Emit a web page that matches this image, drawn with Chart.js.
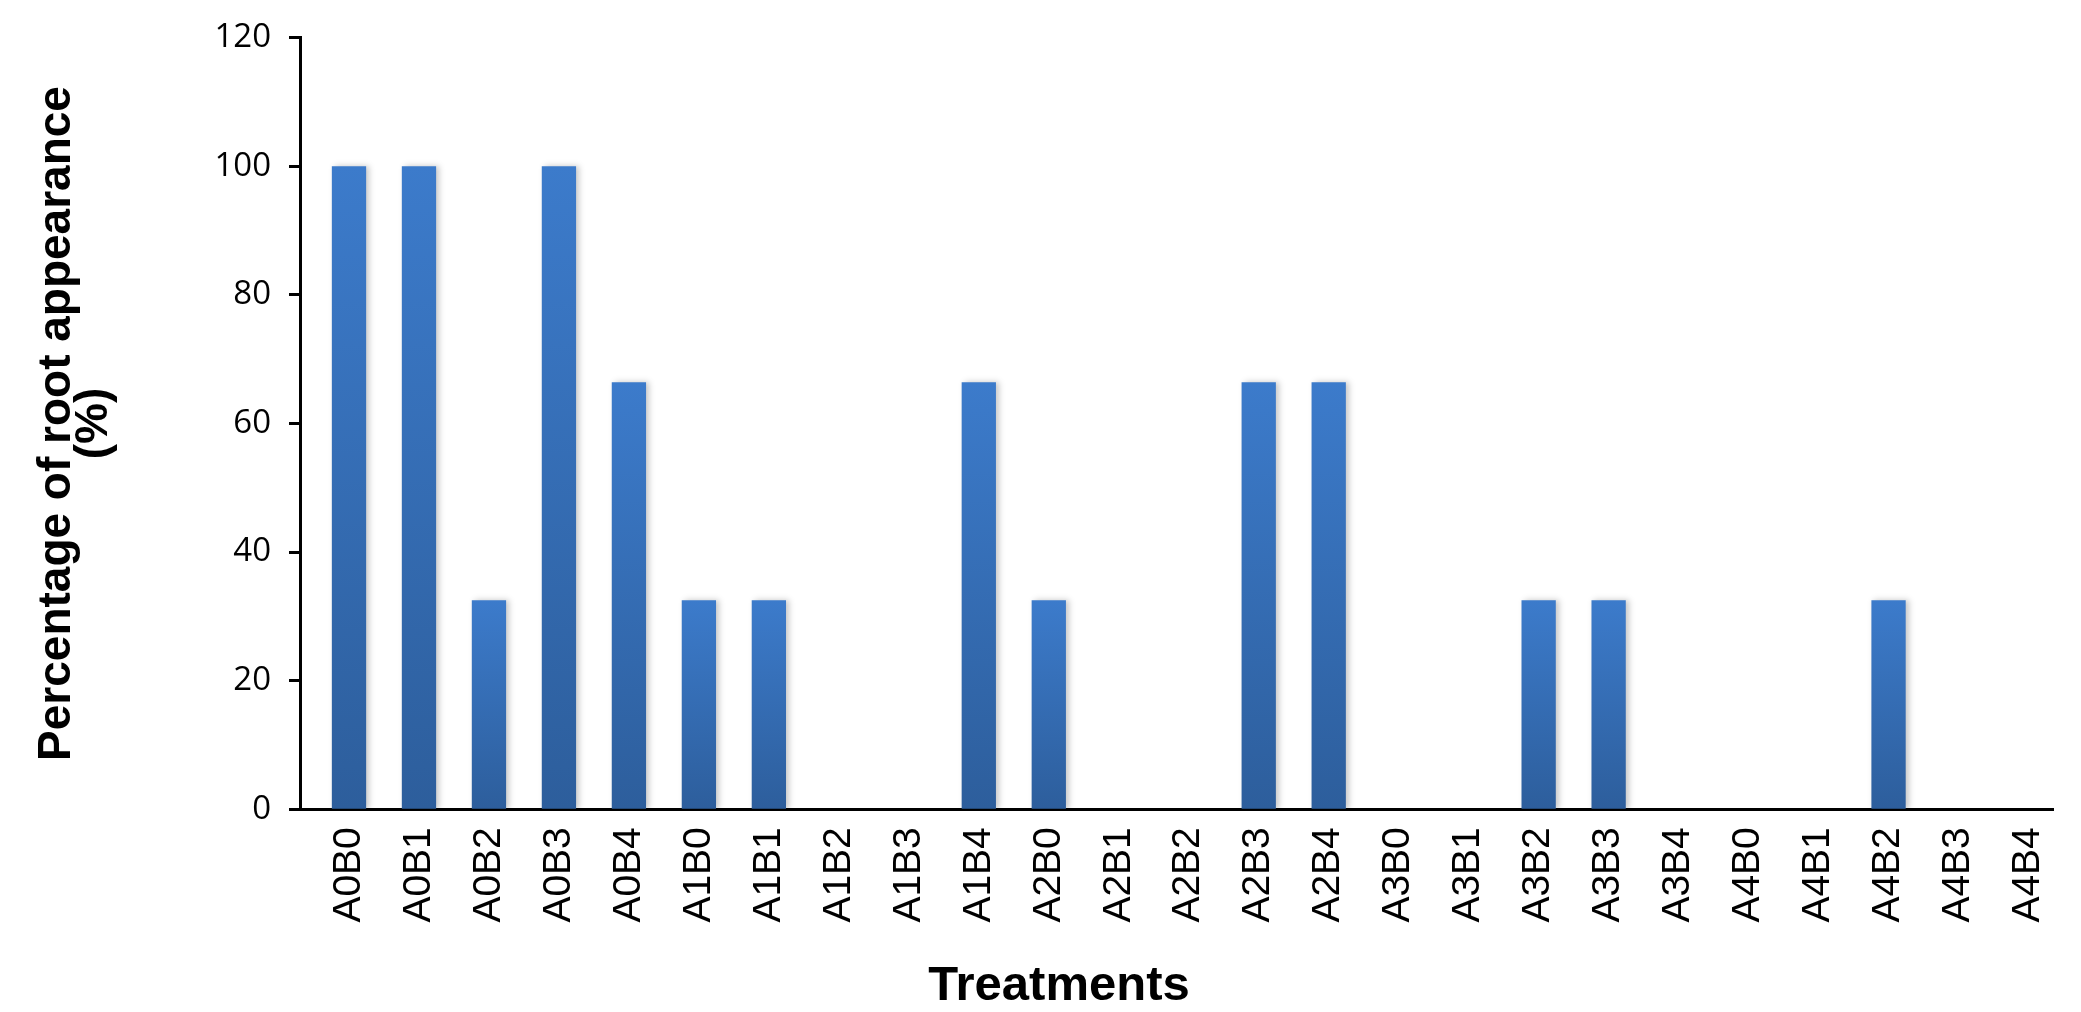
<!DOCTYPE html>
<html>
<head>
<meta charset="utf-8">
<script src="https://cdn.jsdelivr.net/npm/chart.js@4.4.1/dist/chart.umd.min.js"></script>
<style>
  html, body { margin: 0; padding: 0; background: #ffffff; }
  #wrap { width: 2081px; height: 1012px; position: relative; }
</style>
</head>
<body>
<div id="wrap"><canvas id="c" width="2081" height="1012"></canvas></div>
<script>
// ---- data ----
const treatments = ['A0B0','A0B1','A0B2','A0B3','A0B4','A1B0','A1B1','A1B2','A1B3','A1B4',
                    'A2B0','A2B1','A2B2','A2B3','A2B4','A3B0','A3B1','A3B2','A3B3','A3B4',
                    'A4B0','A4B1','A4B2','A4B3','A4B4'];
const rootAppearance = [100, 100, 32.5, 100, 66.4, 32.5, 32.5, 0, 0, 66.4,
                        32.5, 0, 0, 66.4, 66.4, 0, 0, 32.5, 32.5, 0,
                        0, 0, 32.5, 0, 0];
const yTicks = [0, 20, 40, 60, 80, 100, 120];
const yTitle = ['Percentage of root appearance', '(%)'];
const xTitle = 'Treatments';

const points = rootAppearance.map((v, i) => ({ x: i, y: v }));

function barGradient(context) {
  const chart = context.chart;
  const y = chart.scales.y;
  if (!y || !context.parsed) return '#3570b8';
  const top = y.getPixelForValue(context.parsed.y);
  const base = y.getPixelForValue(0);
  if (!isFinite(top) || Math.abs(base - top) < 1) return '#3570b8';
  const g = chart.ctx.createLinearGradient(0, top, 0, base);
  g.addColorStop(0, '#3c7bcb');
  g.addColorStop(1, '#2d5e9c');
  return g;
}

const shadowPlugin = {
  id: 'barShadow',
  beforeDatasetsDraw(chart) {
    const c = chart.ctx;
    c.save();
    c.shadowColor = 'rgba(0,0,0,0.22)';
    c.shadowBlur = 6;
    c.shadowOffsetX = 3;
    c.shadowOffsetY = 0;
  },
  afterDatasetsDraw(chart) {
    chart.ctx.restore();
  }
};

new Chart(document.getElementById('c'), {
  type: 'bar',
  data: {
    datasets: [{
      data: points,
      backgroundColor: barGradient,
      borderWidth: 0,
      barPercentage: 0.49,
      categoryPercentage: 1.0
    }]
  },
  plugins: [shadowPlugin],
  options: {
    responsive: false,
    animation: false,
    devicePixelRatio: 1,
    layout: { padding: { left: 53, right: 16, top: 35, bottom: 0 } },
    plugins: {
      legend: { display: false },
      tooltip: { enabled: false },
      title: {
        display: true,
        position: 'bottom',
        text: xTitle,
        color: '#000000',
        font: { family: '"Liberation Sans", Arial, sans-serif', size: 49, weight: 'bold', lineHeight: 1.2 },
        padding: { top: 4, bottom: -4 }
      }
    },
    scales: {
      x: {
        type: 'linear',
        offset: false,
        min: -0.7,
        max: 24.35,
        afterFit: (s) => { s.height = 144; s.paddingLeft = 0; s.paddingRight = 28; },
        grid: { display: false, drawTicks: false },
        border: { display: true, color: '#000000', width: 3 },
        ticks: {
          stepSize: 1,
          includeBounds: false,
          autoSkip: false,
          minRotation: 90,
          maxRotation: 90,
          padding: 18,
          color: '#000000',
          font: { family: '"Liberation Sans", Arial, sans-serif', size: 39 },
          callback: (v) => (Number.isInteger(v) && treatments[v] !== undefined) ? treatments[v] : ''
        }
      },
      y: {
        min: 0,
        max: 120,
        afterFit: (s) => { s.width = 247; },
        afterBuildTicks: (s) => { s.ticks = yTicks.map(v => ({ value: v })); },
        grid: { display: true, drawOnChartArea: false, drawTicks: true, tickLength: 11, tickColor: '#000000', tickWidth: 3 },
        border: { display: true, color: '#000000', width: 3 },
        ticks: {
          padding: 18,
          color: '#000000',
          font: { family: '"Open Sans", sans-serif', size: 33 }
        },
        title: {
          display: true,
          text: yTitle,
          color: '#000000',
          font: { family: '"Liberation Sans", Arial, sans-serif', size: 46, weight: 'bold', lineHeight: 0.8 },
          padding: { top: -14, bottom: 0 }
        }
      }
    }
  }
});
</script>
</body>
</html>
